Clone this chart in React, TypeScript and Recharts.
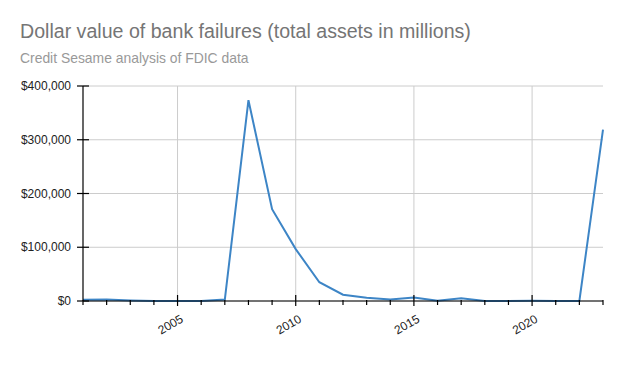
import React from "react";
import { LineChart, Line, XAxis, YAxis, CartesianGrid } from "recharts";

const years = [2001, 2002, 2003, 2004, 2005, 2006, 2007, 2008, 2009, 2010, 2011, 2012, 2013, 2014, 2015, 2016, 2017, 2018, 2019, 2020, 2021, 2022, 2023];
const assets = [2358, 2872, 1097, 170, 0, 0, 2615, 373589, 170867, 96514, 34923, 11617, 6044, 2914, 6706, 277, 5082, 0, 209, 458, 0, 0, 319000];
const yTicks = [0, 100000, 200000, 300000, 400000];
const labeledYears = [2005, 2010, 2015, 2020];

const data = years.map((y, i) => ({ year: y, value: assets[i] }));

const XTick = (props: any) => {
  const { x, y, payload } = props;
  const major = labeledYears.includes(payload.value);
  return (
    <g>
      <line x1={x} x2={x} y1={major ? y - 6 : y - 1} y2={major ? y + 5 : y + 4} stroke="#000" strokeWidth={1.2} />
      {major && (
        <text
          x={x - 5}
          y={y + 27}
          textAnchor="middle"
          fontSize={12}
          fill="#222"
          fontFamily="Liberation Sans, Arial, sans-serif"
          transform={`rotate(-30, ${x - 5}, ${y + 27})`}
        >
          {payload.value}
        </text>
      )}
    </g>
  );
};

const YTick = (props: any) => {
  const { x, y, payload } = props;
  return (
    <g>
      <line x1={x - 6} x2={x + 6} y1={y} y2={y} stroke="#000" strokeWidth={1.2} />
      <text x={x - 12} y={y + 4} textAnchor="end" fontSize={12} fill="#222" fontFamily="Liberation Sans, Arial, sans-serif">
        {"$" + payload.value.toLocaleString("en-US")}
      </text>
    </g>
  );
};

export default function App() {
  return (
    <div style={{ position: "absolute", left: 0, top: 0, width: 623, height: 385, background: "#fff", fontFamily: "Liberation Sans, Arial, sans-serif" }}>
      <div style={{ position: "absolute", left: 20, top: 19, fontSize: 19.6, color: "#757575", whiteSpace: "nowrap", lineHeight: "24px" }}>
        Dollar value of bank failures (total assets in millions)
      </div>
      <div style={{ position: "absolute", left: 20, top: 50, fontSize: 13.9, color: "#999999", whiteSpace: "nowrap", lineHeight: "17px" }}>
        Credit Sesame analysis of FDIC data
      </div>
      <LineChart width={623} height={385} data={data} margin={{ top: 86, right: 20, bottom: 44, left: 0 }}>
        <CartesianGrid stroke="#cccccc" verticalValues={labeledYears} />
        <XAxis
          dataKey="year"
          type="number"
          domain={[2001, 2023]}
          ticks={years}
          interval={0}
          tickSize={0}
          tickMargin={0}
          height={40}
          axisLine={{ stroke: "#000", strokeWidth: 1.2 }}
          tickLine={false}
          tick={<XTick />}
        />
        <YAxis
          type="number"
          domain={[0, 400000]}
          ticks={yTicks}
          width={83}
          tickSize={0}
          tickMargin={0}
          axisLine={{ stroke: "#000", strokeWidth: 1.2 }}
          tickLine={false}
          tick={<YTick />}
        />
        <Line type="linear" dataKey="value" stroke="#3d85c6" strokeWidth={2} dot={false} isAnimationActive={false} />
      </LineChart>
    </div>
  );
}
